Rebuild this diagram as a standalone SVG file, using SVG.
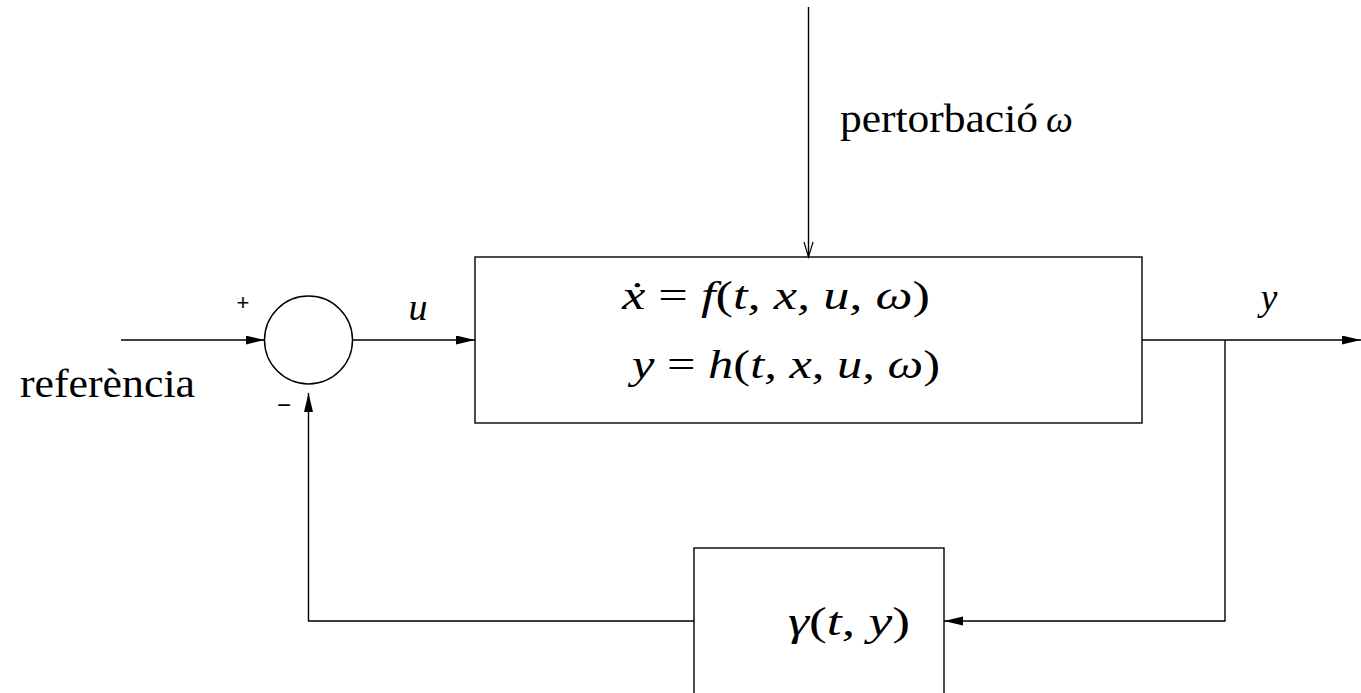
<svg xmlns="http://www.w3.org/2000/svg" width="1361" height="693" viewBox="0 0 1361 693">
<style>
.ln{fill:none;stroke:#000;stroke-width:1.4}
.bx{fill:none;stroke:#000;stroke-width:1.4}
.rm{font-family:"Liberation Serif","Times New Roman",serif;fill:#000}
.mi{font-family:"Liberation Serif","Times New Roman",serif;font-style:italic;fill:#000}
.mr{font-family:"Liberation Serif","Times New Roman",serif;fill:#000}
.sg{font-family:"Liberation Sans",Arial,sans-serif;fill:#000}
</style>
<defs>
<marker id="fa" markerUnits="userSpaceOnUse" markerWidth="21" markerHeight="10" refX="19" refY="4.5" orient="auto">
<path d="M0,0 L19,4.5 L0,9 z" fill="#000"/>
</marker>
<marker id="oa" markerUnits="userSpaceOnUse" markerWidth="18" markerHeight="12" refX="16" refY="5" orient="auto">
<path d="M1,0.5 L16,5 L1,9.5" fill="none" stroke="#000" stroke-width="1.2"/>
</marker>
</defs>
<rect width="1361" height="693" fill="#fff"/>
<g id="sum">
<circle cx="308.5" cy="340" r="44" class="bx"/>
<text x="243" y="310" class="sg" font-size="22" text-anchor="middle">+</text>
<text x="284" y="413" class="sg" font-size="24" text-anchor="middle">−</text>
</g>
<g id="plant">
<rect x="475" y="257" width="667" height="166" class="bx"/>
<text x="622" y="309" class="mi" font-size="40" textLength="308" lengthAdjust="spacingAndGlyphs">ẋ <tspan class="mr" font-style="normal">=</tspan> f<tspan font-style="normal">(</tspan>t, x, u, ω<tspan font-style="normal">)</tspan></text>
<text x="632" y="378" class="mi" font-size="40" textLength="308" lengthAdjust="spacingAndGlyphs">y <tspan font-style="normal">=</tspan> h<tspan font-style="normal">(</tspan>t, x, u, ω<tspan font-style="normal">)</tspan></text>
</g>
<g id="feedback">
<rect x="694" y="548" width="250" height="160" class="bx"/>
<text x="788" y="635" class="mi" font-size="40" textLength="122" lengthAdjust="spacingAndGlyphs">γ<tspan font-style="normal">(</tspan>t, y<tspan font-style="normal">)</tspan></text>
</g>
<g id="labels">
<text x="20" y="397" class="rm" font-size="41" textLength="175" lengthAdjust="spacingAndGlyphs">referència</text>
<text x="840" y="132" class="rm" font-size="40" textLength="198" lengthAdjust="spacingAndGlyphs">pertorbació</text>
<text x="1046" y="132" class="mi" font-size="38">ω</text>
<text x="418" y="320" class="mi" font-size="38" text-anchor="middle">u</text>
<text x="1269" y="310" class="mi" font-size="38" text-anchor="middle">y</text>
</g>
<g id="connectors">
<line x1="121" y1="340" x2="264.5" y2="340" class="ln" marker-end="url(#fa)"/>
<line x1="352.5" y1="340" x2="475" y2="340" class="ln" marker-end="url(#fa)"/>
<line x1="808.5" y1="7" x2="808.5" y2="257" class="ln" marker-end="url(#oa)"/>
<line x1="1142" y1="340" x2="1361" y2="340" class="ln" marker-end="url(#fa)"/>
<polyline points="1225,340 1225,621 944,621" class="ln" marker-end="url(#fa)"/>
<polyline points="694,621 308.5,621 308.5,393" class="ln" marker-end="url(#fa)"/>
</g>
</svg>
